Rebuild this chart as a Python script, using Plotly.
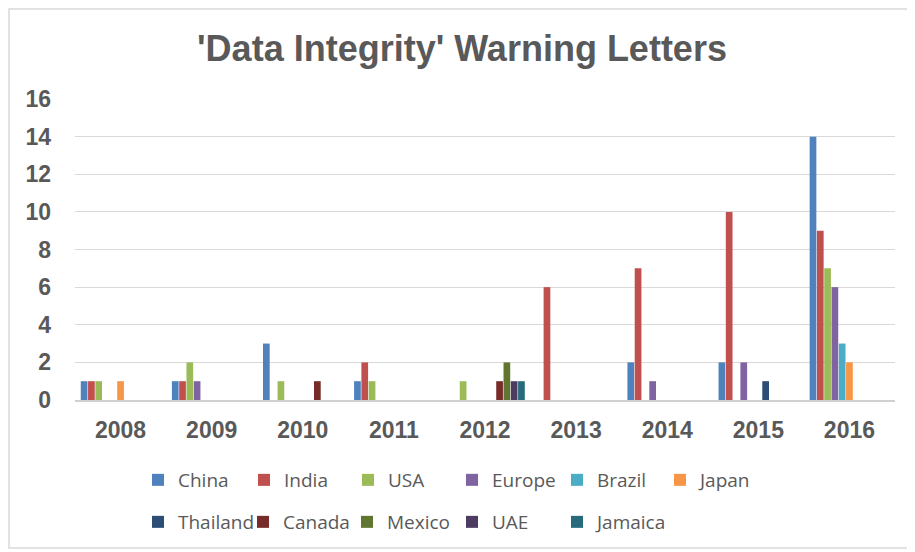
import plotly.graph_objects as go

years = ["2008", "2009", "2010", "2011", "2012", "2013", "2014", "2015", "2016"]

china    = [1, 1, 3, 1, 0, 0, 2, 2, 14]
india    = [1, 1, 0, 2, 0, 6, 7, 10, 9]
usa      = [1, 2, 1, 1, 1, 0, 0, 0, 7]
europe   = [0, 1, 0, 0, 0, 0, 1, 2, 6]
brazil   = [0, 0, 0, 0, 0, 0, 0, 0, 3]
japan    = [1, 0, 0, 0, 0, 0, 0, 0, 2]
thailand = [0, 0, 0, 0, 0, 0, 0, 1, 0]
canada   = [0, 0, 1, 0, 1, 0, 0, 0, 0]
mexico   = [0, 0, 0, 0, 2, 0, 0, 0, 0]
uae      = [0, 0, 0, 0, 1, 0, 0, 0, 0]
jamaica  = [0, 0, 0, 0, 1, 0, 0, 0, 0]

series_names = ["China", "India", "USA", "Europe", "Brazil", "Japan",
                "Thailand", "Canada", "Mexico", "UAE", "Jamaica"]
series_values = [china, india, usa, europe, brazil, japan,
                 thailand, canada, mexico, uae, jamaica]
colors = ["#4F81BD", "#C0504D", "#9BBB59", "#8064A2", "#4BACC6", "#F79646",
          "#2C4D75", "#772C2A", "#5F7530", "#4D3B62", "#276A7C"]

# page offset (browser body margin)
OFF = 8
# legend text start positions and row centres in screen px
legend_tx = [176, 282, 386, 490, 595, 698, 176, 281, 385, 490, 595]
legend_py = [480] * 6 + [522] * 5

W, H = 915 - OFF, 552 - OFF
L, R, T, B = 75 - OFF, 20, 99 - OFF, 152
pw, ph = W - L - R, H - T - B

fig = go.Figure()
layout_legends = {}
for i, (name, vals, col) in enumerate(zip(series_names, series_values, colors)):
    key = "legend" if i == 0 else f"legend{i+1}"
    fig.add_trace(go.Bar(
        x=years, y=vals, name=name, marker_color=col,
        marker_line_width=0, legend=key, showlegend=True,
    ))
    layout_legends[key] = dict(
        x=(legend_tx[i] - OFF - 38 - L) / pw,
        y=(H - B - (legend_py[i] - OFF)) / ph,
        xanchor="left", yanchor="middle",
        orientation="h",
        font=dict(family="Open Sans, sans-serif", size=19, color="#595959"),
        bgcolor="rgba(0,0,0,0)", borderwidth=0,
        itemwidth=30,
    )

fig.update_layout(
    width=W, height=H,
    showlegend=True,
    margin=dict(l=L, r=R, t=T, b=B, autoexpand=False),
    paper_bgcolor="white", plot_bgcolor="white",
    barmode="group", bargap=0.12, bargroupgap=0.08,
    title=dict(
        text="'Data Integrity' Warning Letters",
        font=dict(family="Liberation Sans, Arial, sans-serif", size=36, color="#595959", weight="bold"),
        x=(462 - OFF) / W, xref="container", xanchor="center",
        y=1 - (48 - OFF) / H, yref="container", yanchor="middle",
    ),
    xaxis=dict(
        showgrid=False, showline=True, linecolor="#D0D0D0", linewidth=2,
        ticks="", tickfont=dict(family="Liberation Sans, Arial, sans-serif", size=23, color="#595959", weight="bold"),
        ticklabelstandoff=8,
    ),
    yaxis=dict(
        range=[0, 16], dtick=2, showgrid=True, gridcolor="#D9D9D9", gridwidth=1,
        zeroline=False, showline=False, ticks="",
        tickfont=dict(family="Liberation Sans, Arial, sans-serif", size=23, color="#595959", weight="bold"),
        ticklabelstandoff=23,
    ),
    shapes=[dict(
        type="rect", xref="paper", yref="paper",
        x0=(1 - L) / pw, x1=(911 - OFF - L) / pw,
        y0=(H - B - (548 - OFF)) / ph, y1=(H - B - 1) / ph,
        line=dict(color="#D9D9D9", width=1.5), fillcolor="rgba(0,0,0,0)", layer="below",
    )],
    **layout_legends,
)

fig.write_html("out.html")
